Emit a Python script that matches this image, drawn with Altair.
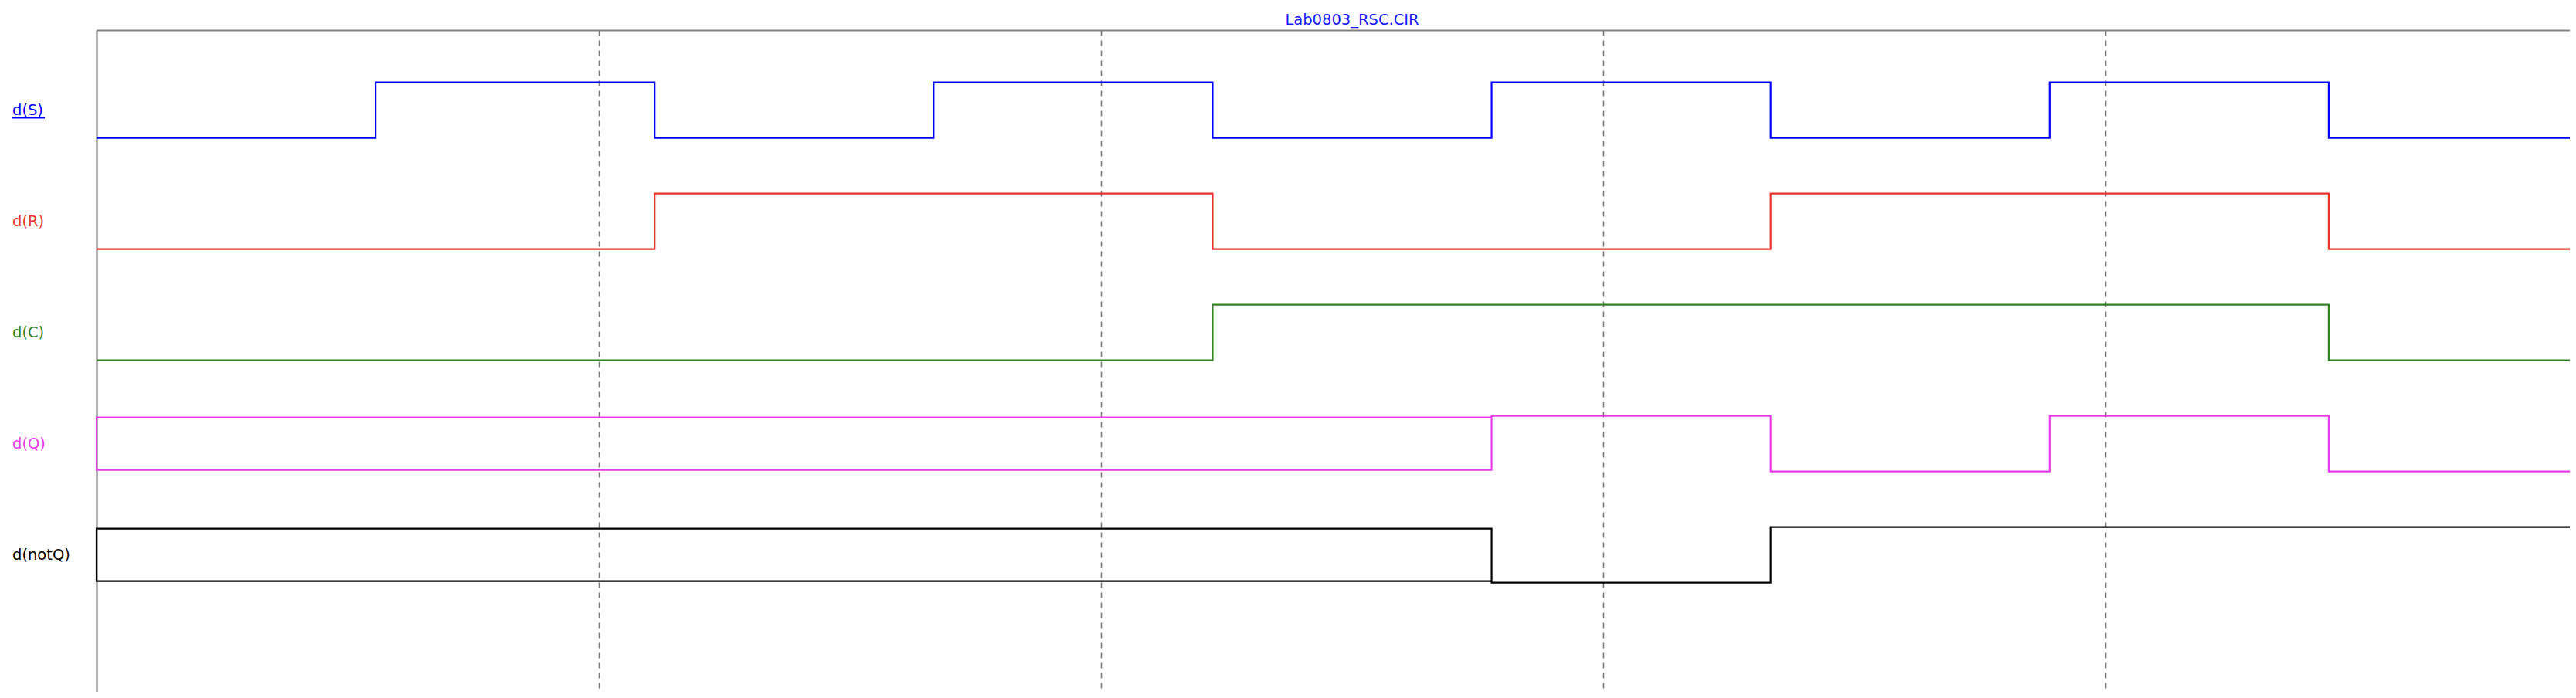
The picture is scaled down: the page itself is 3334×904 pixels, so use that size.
import altair as alt
import pandas as pd

# ---------------- data ----------------
TITLE = "Lab0803_RSC.CIR"
SIGNALS = ["d(S)", "d(R)", "d(C)", "d(Q)", "d(notQ)"]
COLORS = ["#0000FF", "#E8342A", "#338026", "#E83CE8", "#000000"]

# edge times (start of each segment) and logic level of each segment ("X" = unknown)
S_TIMES = [0, 1, 2, 3, 4, 5, 6, 7, 8]
S_LEVELS = [0, 1, 0, 1, 0, 1, 0, 1, 0]
R_TIMES = [0, 2, 4, 6, 8]
R_LEVELS = [0, 1, 0, 1, 0]
C_TIMES = [0, 4, 8]
C_LEVELS = [0, 1, 0]
Q_TIMES = [0, 5, 6, 7, 8]
Q_LEVELS = ["X", 1, 0, 1, 0]
NQ_TIMES = [0, 5, 6]
NQ_LEVELS = ["X", 0, 1]

GRID_TIMES = [1.8, 3.6, 5.4, 7.2]
TITLE_TIME = 4.5

# ---------------- layout ----------------
W, H = 3201, 857
PX_PER_T = 650 / 1.8
X_MAX = W / PX_PER_T
PX_PER_LEVEL = 72.0
Y_MAX = H / PX_PER_LEVEL
LANE0 = (178.7 - 39) / PX_PER_LEVEL
LANE_STEP = 2.0
EPS = 2 / PX_PER_LEVEL
FONT = "DejaVu Sans"

traces = [
    (S_TIMES, S_LEVELS),
    (R_TIMES, R_LEVELS),
    (C_TIMES, C_LEVELS),
    (Q_TIMES, Q_LEVELS),
    (NQ_TIMES, NQ_LEVELS),
]

rows = []
for k, (sig, (times, levels)) in enumerate(zip(SIGNALS, traces)):
    low = LANE0 + LANE_STEP * k
    pts = []
    n = len(times)
    for i, (t0, lv) in enumerate(zip(times, levels)):
        t1 = times[i + 1] if i + 1 < n else X_MAX
        if lv == "X":
            nxt = levels[i + 1] if i + 1 < n else 0
            a, b = (1 - EPS, EPS) if nxt == 1 else (EPS, 1 - EPS)
            pts += [(t1, a), (t0, a), (t0, b), (t1, b)]
        else:
            pts += [(t0, lv), (t1, lv)]
    for j, (t, lv) in enumerate(pts):
        rows.append({"sig": sig, "t": t, "y": low - lv, "i": j})
lines_df = pd.DataFrame(rows)

labels_df = pd.DataFrame({
    "sig": SIGNALS,
    "y": [LANE0 + LANE_STEP * k - 0.5 for k in range(len(SIGNALS))],
})
underline_df = pd.DataFrame({"sig": [SIGNALS[0]], "y": [LANE0 - 0.5 + 10 / PX_PER_LEVEL]})
title_df = pd.DataFrame({"t": [TITLE_TIME], "txt": [TITLE]})

XS = alt.Scale(domain=[0, X_MAX], nice=False, zero=False)
YS = alt.Scale(domain=[0, Y_MAX], reverse=True, nice=False, zero=False)
CS = alt.Scale(domain=SIGNALS, range=COLORS)
XAX = alt.Axis(orient="top", values=GRID_TIMES, grid=True, gridDash=[7, 6],
               gridColor="#7A7A7A", gridWidth=1.6, gridOpacity=1, labels=False, ticks=False,
               domain=True, domainColor="#808080", domainWidth=2.2, title=None)
YAX = alt.Axis(grid=False, labels=False, ticks=False, domain=True,
               domainColor="#808080", domainWidth=2.2, title=None)

lines = alt.Chart(lines_df).mark_line(strokeWidth=2.2, strokeJoin="miter").encode(
    x=alt.X("t:Q", scale=XS, axis=XAX),
    y=alt.Y("y:Q", scale=YS, axis=YAX),
    color=alt.Color("sig:N", scale=CS, legend=None),
    detail="sig:N",
    order="i:Q",
)

labels = alt.Chart(labels_df).mark_text(
    align="left", baseline="middle", font=FONT, fontSize=19.5
).encode(
    x=alt.value(-109),
    y=alt.Y("y:Q", scale=YS, axis=YAX),
    text="sig:N",
    color=alt.Color("sig:N", scale=CS, legend=None),
)

underline = alt.Chart(underline_df).mark_rule(strokeWidth=1.7).encode(
    x=alt.value(-109),
    x2=alt.value(-67),
    y=alt.Y("y:Q", scale=YS, axis=YAX),
    color=alt.Color("sig:N", scale=CS, legend=None),
)

title = alt.Chart(title_df).mark_text(
    align="center", baseline="alphabetic", font=FONT, fontSize=19.5, color="#1A1AFF"
).encode(
    x=alt.X("t:Q", scale=XS, axis=XAX),
    y=alt.value(-7.3),
    text="txt:N",
)

chart = alt.layer(lines, labels, underline, title).properties(
    width=W, height=H,
    autosize=alt.AutoSizeParams(type="none"),
    padding={"left": 117, "top": 31, "right": 0, "bottom": 0},
    background="white",
).configure_view(stroke=None)

chart.save("out.html", embed_options={"renderer": "svg", "actions": False})
